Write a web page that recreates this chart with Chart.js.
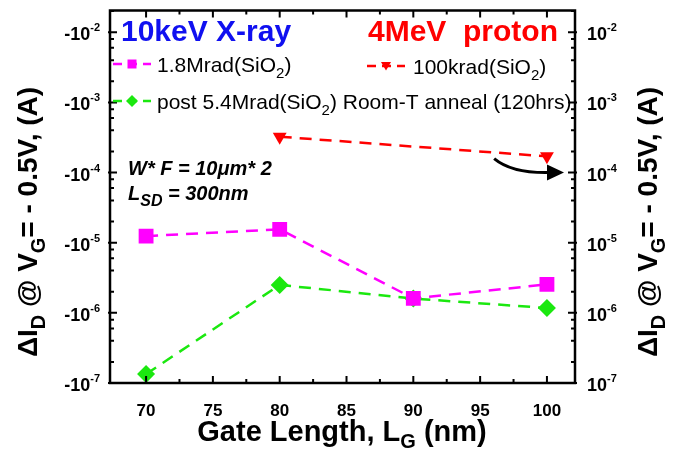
<!DOCTYPE html>
<html>
<head>
<meta charset="utf-8">
<script src="https://cdn.jsdelivr.net/npm/chart.js@4"></script>
<style>
html, body { margin: 0; background: #fff; }
#wrap { width: 680px; height: 457px; }
</style>
</head>
<body>
<div id="wrap"><canvas id="graphe"></canvas></div>
<script>
// donnees
const gateLength = [70, 80, 90, 100];
const xray18Mrad = [1.24e-5, 1.55e-5, 1.61e-6, 2.54e-6];
const annealPost = [1.34e-7, 2.5e-6, 1.6e-6, 1.17e-6];
const proton100krad = [null, 3.24e-4, null, 1.7e-4];
const xTicks = [70, 75, 80, 85, 90, 95, 100];
const decades = [-7, -6, -5, -4, -3, -2];

const FONT = "'Liberation Sans', Arial, sans-serif";
const NARROW = "'Liberation Sans Narrow', 'Liberation Sans', Arial, sans-serif";
const MAGENTA = '#ff00ff', GREEN = '#1be80f', RED = '#ff0000';

const points = arr => gateLength.map((x, i) => ({ x: x, y: arr[i] }));

// dessine un texte en morceaux (indices, exposants)
function texteRiche(ctx, x, y, morceaux, align) {
    const mesure = morceaux.map(m => { ctx.font = m.font; return ctx.measureText(m.t).width; });
    const total = mesure.reduce((a, b) => a + b, 0);
    let cx = align === 'right' ? x - total : align === 'center' ? x - total / 2 : x;
    morceaux.forEach((m, i) => {
        ctx.font = m.font;
        ctx.fillStyle = m.color || '#000';
        ctx.fillText(m.t, cx, y + (m.dy || 0));
        cx += mesure[i];
    });
}

function marqueur(ctx, style, x, y, r, couleur) {
    ctx.save();
    ctx.fillStyle = couleur;
    ctx.beginPath();
    if (style === 'rect') ctx.rect(x - r, y - r, 2 * r, 2 * r);
    if (style === 'diamond') { ctx.moveTo(x, y - r); ctx.lineTo(x + r, y); ctx.lineTo(x, y + r); ctx.lineTo(x - r, y); }
    if (style === 'tri') { ctx.moveTo(x - r, y - r * 0.8); ctx.lineTo(x + r, y - r * 0.8); ctx.lineTo(x, y + r * 0.9); }
    ctx.closePath();
    ctx.fill();
    ctx.restore();
}

function legendeLigne(ctx, x1, x2, y, couleur, style, r) {
    ctx.save();
    ctx.strokeStyle = couleur;
    ctx.lineWidth = 2.5;
    ctx.setLineDash([9, 6]);
    ctx.beginPath(); ctx.moveTo(x1, y); ctx.lineTo(x2, y); ctx.stroke();
    ctx.restore();
    marqueur(ctx, style, (x1 + x2) / 2, y, r, couleur);
}

const decor = {
    id: 'decor',
    afterDraw(chart) {
        const ctx = chart.ctx, a = chart.chartArea;
        const sx = chart.scales.x, sy = chart.scales.y;
        ctx.save();
        // cadre
        ctx.strokeStyle = '#000';
        ctx.lineWidth = 2.5;
        ctx.strokeRect(a.left, a.top, a.right - a.left, a.bottom - a.top);

        // graduations vers l'interieur
        ctx.lineWidth = 2;
        ctx.beginPath();
        xTicks.forEach(v => {
            const px = sx.getPixelForValue(v);
            ctx.moveTo(px, a.bottom); ctx.lineTo(px, a.bottom - 7);
            ctx.moveTo(px, a.top); ctx.lineTo(px, a.top + 7);
            if (v < 100) {
                const pm = sx.getPixelForValue(v + 2.5);
                ctx.moveTo(pm, a.bottom); ctx.lineTo(pm, a.bottom - 4);
                ctx.moveTo(pm, a.top); ctx.lineTo(pm, a.top + 4);
            }
        });
        decades.forEach(d => {
            const py = sy.getPixelForValue(Math.pow(10, d));
            ctx.moveTo(a.left - 2, py); ctx.lineTo(a.left + 7, py);
            ctx.moveTo(a.right + 2, py); ctx.lineTo(a.right - 7, py);
            [2, 4, 6, 8].forEach(k => {
                const v = k * Math.pow(10, d);
                if (v > sy.max) return;
                const pm = sy.getPixelForValue(v);
                ctx.moveTo(a.left, pm); ctx.lineTo(a.left + 4, pm);
                ctx.moveTo(a.right, pm); ctx.lineTo(a.right - 4, pm);
            });
        });
        ctx.stroke();

        // etiquettes des decades
        ctx.textBaseline = 'alphabetic';
        decades.forEach(d => {
            const py = sy.getPixelForValue(Math.pow(10, d));
            const base = 'bold 18px ' + FONT, sup = 'bold 11px ' + FONT;
            texteRiche(ctx, 100, py + 8, [{ t: '-10', font: base }, { t: '-' + (-d), font: sup, dy: -9 }], 'right');
            texteRiche(ctx, 587, py + 8, [{ t: '10', font: base }, { t: '-' + (-d), font: sup, dy: -9 }], 'left');
        });

        // titres des axes y (tournes)
        const titreY = [
            { t: '\u0394I', font: 'bold 28px ' + FONT },
            { t: 'D', font: 'bold 20px ' + FONT, dy: 8 },
            { t: ' @ V', font: 'bold 28px ' + FONT },
            { t: 'G', font: 'bold 20px ' + FONT, dy: 8 },
            { t: '= - 0.5V, (A)', font: 'bold 28px ' + FONT }
        ];
        [[37, 222], [657, 222]].forEach(([cx, cy]) => {
            ctx.save();
            ctx.translate(cx, cy);
            ctx.rotate(-Math.PI / 2);
            texteRiche(ctx, 0, 0, titreY, 'center');
            ctx.restore();
        });

        // titre de l'axe x
        texteRiche(ctx, 342, 441, [
            { t: 'Gate Length, L', font: 'bold 29px ' + FONT },
            { t: 'G', font: 'bold 20px ' + FONT, dy: 7 },
            { t: ' (nm)', font: 'bold 29px ' + FONT }
        ], 'center');

        // en-tetes
        texteRiche(ctx, 121, 41, [{ t: '10keV X-ray', font: 'bold 30px ' + FONT, color: '#1010f0' }], 'left');
        texteRiche(ctx, 368, 41, [{ t: '4MeV  proton', font: 'bold 30px ' + FONT, color: RED }], 'left');

        // legende
        const lf = '21px ' + FONT, sf = '15px ' + FONT;
        legendeLigne(ctx, 113, 151, 64, MAGENTA, 'rect', 4.5);
        texteRiche(ctx, 157, 72, [{ t: '1.8Mrad(SiO', font: lf }, { t: '2', font: sf, dy: 6 }, { t: ')', font: lf }], 'left');
        legendeLigne(ctx, 367, 405, 66, RED, 'tri', 5);
        texteRiche(ctx, 413, 74, [{ t: '100krad(SiO', font: lf }, { t: '2', font: sf, dy: 6 }, { t: ')', font: lf }], 'left');
        legendeLigne(ctx, 113, 151, 101, GREEN, 'diamond', 6);
        texteRiche(ctx, 157, 109, [
            { t: 'post 5.4Mrad(SiO', font: lf }, { t: '2', font: sf, dy: 6 },
            { t: ') Room-T anneal (120hrs)', font: lf }
        ], 'left');

        // annotation du dispositif
        const it = 'italic bold 20px ' + FONT;
        texteRiche(ctx, 128, 175, [{ t: 'W* F = 10\u03bcm* 2', font: it }], 'left');
        texteRiche(ctx, 128, 200, [
            { t: 'L', font: it }, { t: 'SD', font: 'italic bold 16px ' + FONT, dy: 6 }, { t: ' = 300nm', font: it }
        ], 'left');

        // fleche courbe vers l'axe de droite
        const tipX = a.right - 11, tipY = sy.getPixelForValue(1e-4);
        const x0 = sx.getPixelForValue(96.05), y0 = sy.getPixelForValue(1.58e-4);
        ctx.strokeStyle = '#000';
        ctx.lineWidth = 3;
        ctx.beginPath();
        ctx.moveTo(x0, y0);
        ctx.quadraticCurveTo(x0 + 18, tipY + 1, tipX - 14, tipY);
        ctx.stroke();
        ctx.fillStyle = '#000';
        ctx.beginPath();
        ctx.moveTo(tipX, tipY);
        ctx.lineTo(tipX - 17, tipY - 8);
        ctx.lineTo(tipX - 17, tipY + 8);
        ctx.closePath();
        ctx.fill();
        ctx.restore();
    }
};

const serie = (arr, couleur, style, rayon, rot) => ({
    data: points(arr),
    borderColor: couleur,
    backgroundColor: couleur,
    borderWidth: 2.5,
    borderDash: [12, 8],
    pointStyle: style,
    pointRadius: rayon,
    pointRotation: rot || 0,
    pointBorderWidth: 0,
    spanGaps: true,
    tension: 0
});

new Chart('graphe', {
    type: 'line',
    data: {
        datasets: [
            serie(proton100krad, RED, 'triangle', 8, 180),
            serie(xray18Mrad, MAGENTA, 'rect', 10.5),
            serie(annealPost, GREEN, 'rectRot', 9)
        ]
    },
    options: {
        responsive: true,
        maintainAspectRatio: false,
        animation: false,
        layout: { padding: { top: 5, left: 0, right: 0, bottom: 0 } },
        plugins: { legend: { display: false }, tooltip: { enabled: false } },
        scales: {
            x: {
                type: 'linear', min: 67.3, max: 102.1,
                grid: { display: false }, border: { display: false },
                afterBuildTicks: s => { s.ticks = xTicks.map(v => ({ value: v })); },
                afterFit: s => { s.height = 74; },
                ticks: { color: '#000', padding: 10, font: { family: NARROW, size: 17, weight: 'bold' } }
            },
            y: {
                type: 'logarithmic', position: 'left', min: 1e-7, max: 2.04e-2,
                grid: { display: false }, border: { display: false },
                ticks: { display: false },
                afterFit: s => { s.width = 110; }
            },
            y2: {
                type: 'logarithmic', position: 'right', min: 1e-7, max: 2.04e-2,
                grid: { display: false }, border: { display: false },
                ticks: { display: false },
                afterFit: s => { s.width = 105; }
            }
        }
    },
    plugins: [decor]
});
</script>
</body>
</html>
